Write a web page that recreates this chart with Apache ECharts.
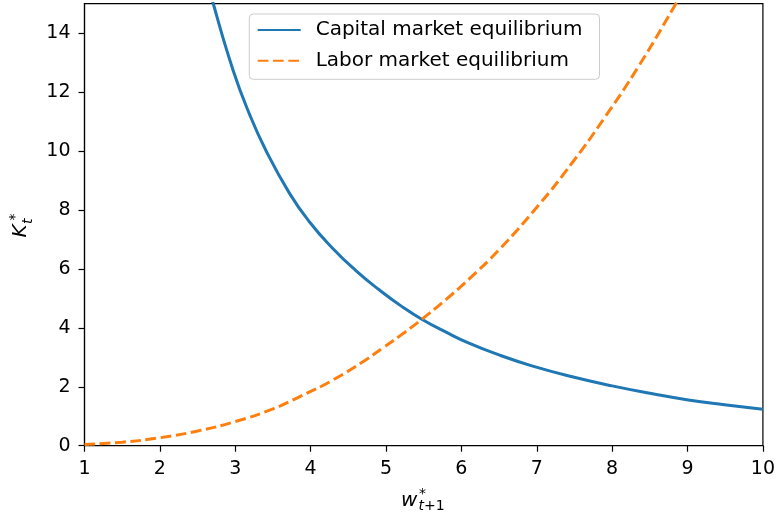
<!DOCTYPE html>
<html>
<head>
<meta charset="utf-8">
<script src="https://cdn.jsdelivr.net/npm/echarts@6/dist/echarts.min.js"></script>
<style>
html,body{margin:0;padding:0;background:#fff;}
#chart{width:778px;height:519px;}
</style>
</head>
<body>
<div id="chart"></div>
<script>
// Capital market equilibrium (w, K)
const capitalW = [2.6, 2.706, 2.97, 3.19, 3.41, 3.718, 3.983, 4.291, 4.6, 4.909, 5.217, 5.48, 5.79, 6.10, 6.52, 6.935, 7.47, 8.0, 8.52, 9.01, 9.49, 10.0];
const capitalK = [16.1, 15.02, 12.75, 11.24, 10.0, 8.57, 7.60, 6.70, 5.94, 5.29, 4.71, 4.28, 3.86, 3.48, 3.06, 2.71, 2.34, 2.03, 1.77, 1.55, 1.39, 1.24];
// Labor market equilibrium (w, K)
const laborW = [1.0, 1.5, 2.0, 2.5, 3.0, 3.5, 3.85, 4.29, 4.73, 4.953, 5.17, 5.46, 5.79, 6.10, 6.5, 7.03, 7.47, 7.91, 8.35, 8.83, 9.0];
const laborK = [0.04, 0.12, 0.27, 0.5, 0.82, 1.25, 1.66, 2.22, 2.91, 3.31, 3.70, 4.26, 4.95, 5.65, 6.65, 8.18, 9.6, 11.17, 12.87, 14.93, 15.7];
const xTicks = [1, 2, 3, 4, 5, 6, 7, 8, 9, 10];
const yTicks = [0, 2, 4, 6, 8, 10, 12, 14];
const seriesNames = ['Capital market equilibrium', 'Labor market equilibrium'];

const FONT = 'DejaVu Sans';
const chart = echarts.init(document.getElementById('chart'), null, {renderer: 'canvas'});
const zip = (a, b) => a.map((v, i) => [v, b[i]]);

chart.setOption({
  animation: false,
  backgroundColor: '#fff',
  grid: {left: 84.5, right: 13, top: 3.6, bottom: 73.3, show: true, borderColor: '#000', borderWidth: 1.2, backgroundColor: 'transparent'},
  xAxis: {
    type: 'value', min: 1, max: 10, interval: 1,
    axisLine: {show: true, onZero: false, lineStyle: {color: '#000', width: 1.2}},
    axisTick: {show: true, length: 6, lineStyle: {color: '#000', width: 1.2}, customValues: xTicks},
    axisLabel: {color: '#000', fontFamily: FONT, fontSize: 19, margin: 14, customValues: xTicks},
    splitLine: {show: false}
  },
  yAxis: {
    type: 'value', min: 0, max: 15, interval: 2,
    axisLine: {show: true, onZero: false, lineStyle: {color: '#000', width: 1.2}},
    axisTick: {show: true, length: 6, lineStyle: {color: '#000', width: 1.2}, customValues: yTicks},
    axisLabel: {color: '#000', fontFamily: FONT, fontSize: 19, margin: 14, customValues: yTicks},
    splitLine: {show: false}
  },
  legend: {
    orient: 'vertical', left: 249.3, top: 14,
    data: seriesNames,
    itemWidth: 43, itemHeight: 14, itemGap: 8.7,
    padding: [5, 17, 7.6, 7.4],
    backgroundColor: 'rgba(255,255,255,0.8)',
    borderColor: '#cccccc', borderWidth: 1, borderRadius: 4,
    itemStyle: {opacity: 0},
    textStyle: {color: '#000', fontFamily: FONT, fontSize: 20, lineHeight: 22, padding: [0, 0, 0, 10]}
  },
  series: [
    {
      name: seriesNames[0], type: 'line', data: zip(capitalW, capitalK),
      symbol: 'none', smooth: 0.5, clip: true,
      lineStyle: {color: '#1f77b4', width: 3}, itemStyle: {color: '#1f77b4'}
    },
    {
      name: seriesNames[1], type: 'line', data: zip(laborW, laborK),
      symbol: 'none', smooth: 0.5, clip: true,
      lineStyle: {color: '#ff7f0e', width: 3, type: [10.7, 4.6]}, itemStyle: {color: '#ff7f0e'}
    }
  ],
  graphic: [
    {
      type: 'group', x: 0, y: 0, silent: true,
      children: [
        {type: 'text', x: 401, y: 501, style: {text: 'w', font: 'italic 20px "DejaVu Sans"', fill: '#000', verticalAlign: 'middle'}},
        {type: 'text', x: 419, y: 493.9, style: {text: '*', font: '14px "DejaVu Sans"', fill: '#000', verticalAlign: 'middle'}},
        {type: 'text', x: 418.5, y: 506.8, style: {text: '{i|t}{n|+1}', fill: '#000', verticalAlign: 'middle',
          rich: {i: {fontFamily: FONT, fontStyle: 'italic', fontSize: 14}, n: {fontFamily: FONT, fontSize: 14}}}}
      ]
    },
    {
      type: 'group', x: 28, y: 237.5, rotation: Math.PI / 2, silent: true,
      children: [
        {type: 'text', x: 0, y: -7, style: {text: 'K', font: 'italic 20px "DejaVu Sans"', fill: '#000', verticalAlign: 'middle'}},
        {type: 'text', x: 13.5, y: 0.1, style: {text: 't', font: 'italic 14px "DejaVu Sans"', fill: '#000', verticalAlign: 'middle'}},
        {type: 'text', x: 17, y: -12.6, style: {text: '*', font: '14px "DejaVu Sans"', fill: '#000', verticalAlign: 'middle'}}
      ]
    }
  ]
});
</script>
</body>
</html>
